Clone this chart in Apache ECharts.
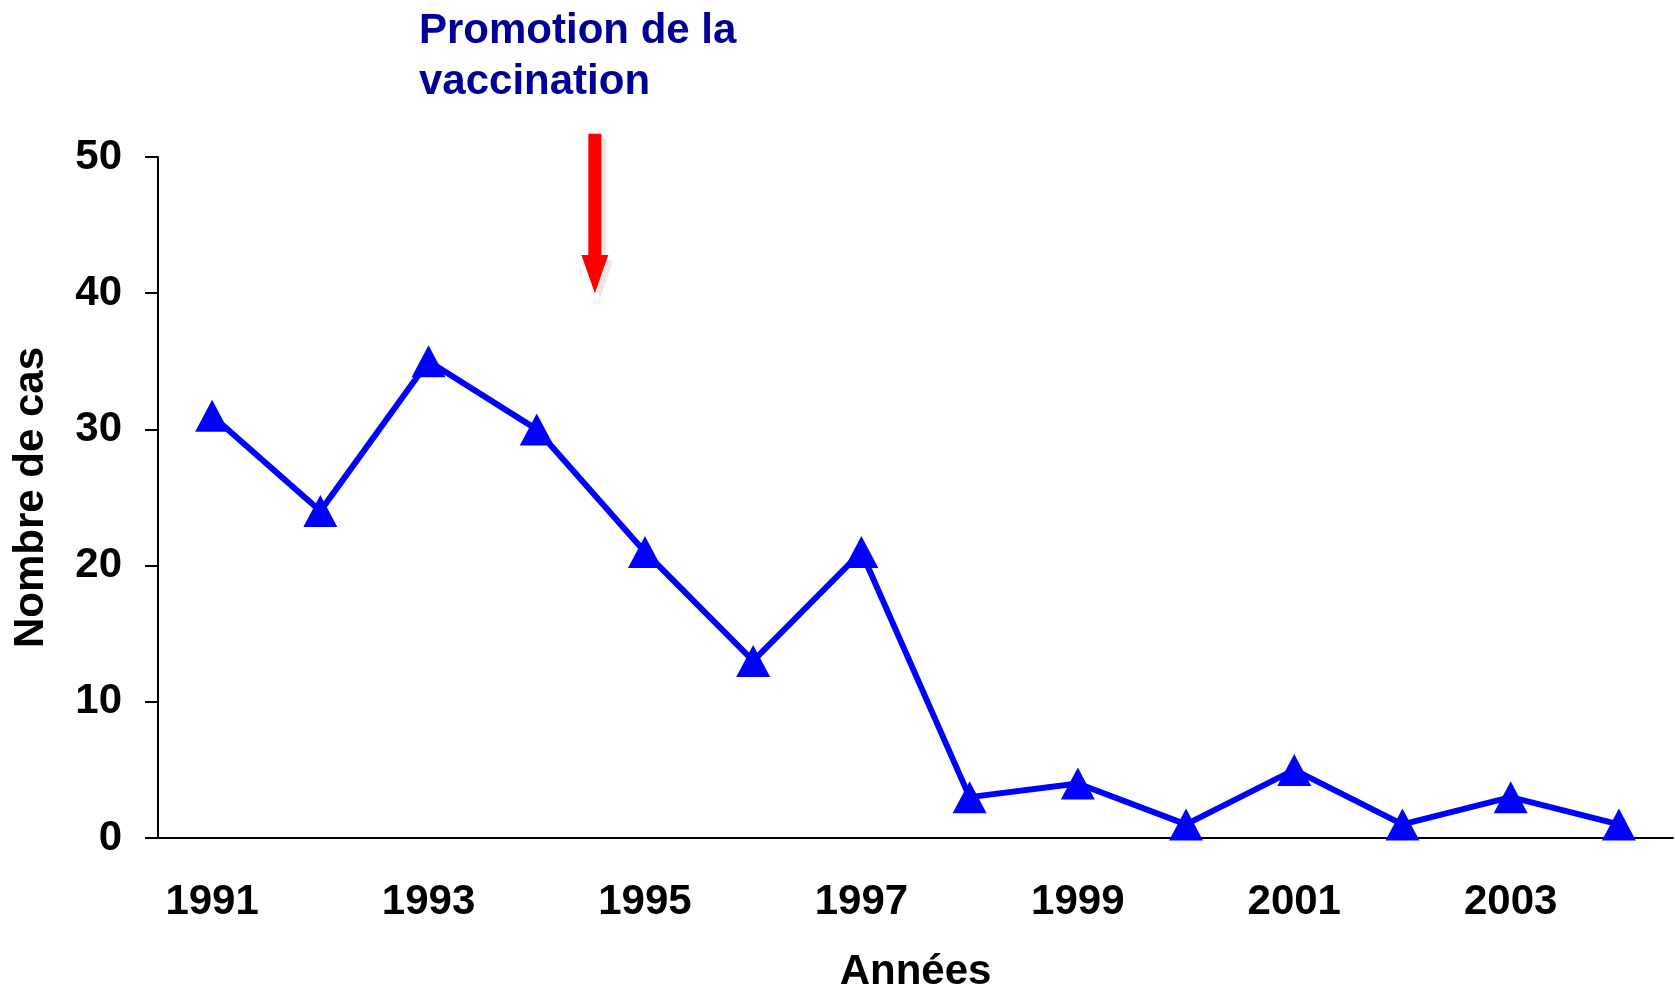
<!DOCTYPE html>
<html>
<head>
<meta charset="utf-8">
<script src="https://cdn.jsdelivr.net/npm/echarts@6/dist/echarts.min.js"></script>
<style>
  html, body { margin: 0; padding: 0; background: #fff; }
  #chart { width: 1675px; height: 998px; }
</style>
</head>
<body>
<div id="chart"></div>
<script>
var years = ['1991', '1992', '1993', '1994', '1995', '1996', '1997', '1998', '1999', '2000', '2001', '2002', '2003', '2004']
var cases = [31, 24, 35, 30, 21, 13, 21, 3, 4, 1, 5, 1, 3, 1]
var yTicks = [0, 10, 20, 30, 40, 50]

// arrow annotation : between 1994 and 1995, values on the y scale
var arrowFrom = ['1994', '1995']
var arrowTop = 51.7
var arrowHeadStart = 42.8
var arrowTip = 40

var font = 'Liberation Sans, Arial, sans-serif'

var myChart = echarts.init(document.getElementById('chart'))

var option = {
  animation: false,
  title: {
    text: 'Promotion de la\nvaccination',
    left: 414,
    top: 1,
    textStyle: {
      fontFamily: font,
      fontWeight: 'bold',
      fontSize: 42,
      lineHeight: 51,
      color: '#000096'
    }
  },
  grid: {
    left: 158,
    right: 2,
    top: 157,
    bottom: 154,
    containLabel: false
  },
  xAxis: {
    type: 'category',
    data: years,
    boundaryGap: true,
    name: 'Années',
    nameLocation: 'middle',
    nameGap: 113,
    nameTextStyle: {
      fontFamily: font,
      fontWeight: 'bold',
      fontSize: 42,
      color: '#000'
    },
    axisLine: { lineStyle: { color: '#000', width: 2 } },
    axisTick: { show: false },
    axisLabel: {
      interval: 1,
      margin: 43,
      fontFamily: font,
      fontWeight: 'bold',
      fontSize: 42,
      color: '#000'
    },
    splitLine: { show: false }
  },
  yAxis: {
    type: 'value',
    min: yTicks[0],
    max: yTicks[yTicks.length - 1],
    interval: 10,
    name: 'Nombre de cas',
    nameLocation: 'middle',
    nameGap: 106,
    nameTextStyle: {
      fontFamily: font,
      fontWeight: 'bold',
      fontSize: 42,
      color: '#000'
    },
    axisLine: { show: true, lineStyle: { color: '#000', width: 2 } },
    axisTick: { show: true, length: 13, lineStyle: { color: '#000', width: 2 } },
    axisLabel: {
      margin: 36,
      fontFamily: font,
      fontWeight: 'bold',
      fontSize: 42,
      color: '#000'
    },
    splitLine: { show: false }
  },
  series: [
    {
      name: 'Nombre de cas',
      type: 'line',
      data: cases,
      symbol: 'triangle',
      symbolSize: [34, 32],
      lineStyle: { color: '#0000ff', width: 6 },
      itemStyle: { color: '#0000ff' }
    }
  ]
}
myChart.setOption(option)

// arrow drawn after layout, from the axes' own scales
var x0 = myChart.convertToPixel({ xAxisIndex: 0 }, arrowFrom[0])
var x1 = myChart.convertToPixel({ xAxisIndex: 0 }, arrowFrom[1])
var cx = (x0 + x1) / 2 + 4
var yTop = myChart.convertToPixel({ yAxisIndex: 0 }, arrowTop)
var yHead = myChart.convertToPixel({ yAxisIndex: 0 }, arrowHeadStart)
var yTip = myChart.convertToPixel({ yAxisIndex: 0 }, arrowTip)

function arrowPoints(dx, dy) {
  var sw = 6.5, hw = 13.5
  return [
    [cx - sw + dx, yTop + dy], [cx + sw + dx, yTop + dy],
    [cx + sw + dx, yHead + dy], [cx + hw + dx, yHead + dy],
    [cx + dx, yTip + dy],
    [cx - hw + dx, yHead + dy], [cx - sw + dx, yHead + dy]
  ]
}

myChart.setOption({
  graphic: [
    {
      type: 'polygon',
      shape: { points: arrowPoints(5, 5) },
      style: { fill: '#ebe9df' },
      z: 10
    },
    {
      type: 'polygon',
      shape: { points: arrowPoints(0, 0) },
      style: { fill: '#ff0000' },
      z: 11
    }
  ]
})
</script>
</body>
</html>
